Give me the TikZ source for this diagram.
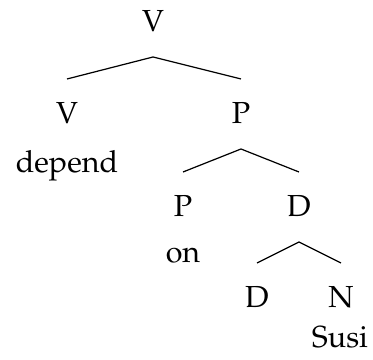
\documentclass[tikz,border=0pt]{standalone}
\usepackage[T1]{fontenc}
\usepackage{mathpazo}
\usetikzlibrary{calc}
\begin{document}
\begin{tikzpicture}[x=0.3286pt,y=-0.3286pt,lbl/.style={anchor=base,inner sep=0pt},branch/.style={line width=0.4pt}]
				\useasboundingbox (0,0) rectangle (373,360);
				\node[lbl] (v) at (153,32) {V};
				\node[lbl] (v1) at (67,124) {V};
				\node[lbl] (p) at (241,124) {P};
				\node[lbl] (depend) at (67,173) {depend};
				\node[lbl] (p1) at (183,217) {P};
				\node[lbl] (d) at (299,217) {D};
				\node[lbl] (on) at (183,263) {on};
				\node[lbl] (d1) at (257,308) {D};
				\node[lbl] (n) at (341,308) {N};
				\node[lbl] (susi) at (340,348) {Susi};
				\foreach \mom/\kid in {v/v1,v/p,p/p1,p/d,d/d1,d/n}
				\draw[branch] ($(\mom.base)+(0,25)$)--($(\kid.base)+(0,-45)$);
			\end{tikzpicture}
\end{document}
